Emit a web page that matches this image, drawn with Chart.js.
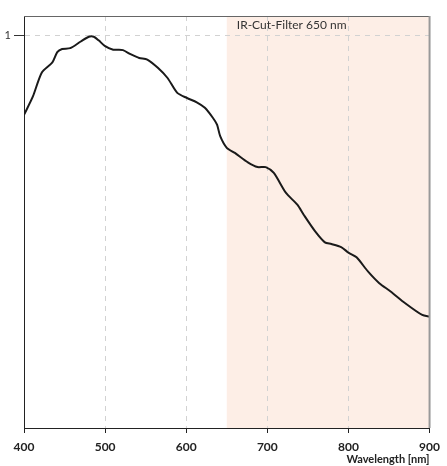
<!DOCTYPE html>
<html>
<head>
<meta charset="utf-8">
<script src="https://cdn.jsdelivr.net/npm/chart.js@4/dist/chart.umd.min.js"></script>
<style>
html,body{margin:0;padding:0;background:#fff;}
#wrap{width:447px;height:466px;position:relative;}
</style>
</head>
<body>
<div id="wrap"><canvas id="c" width="447" height="466"></canvas></div>
<script>
const wavelengths = [400,411,422,435,441,447,457,470,480,486,492,500,510,516,522,532,542,552,565,577,589,601,613,623,633,638,642,650,660,676,688,698,708,723,737,745,759,771,779,791,800,810,824,838,852,870,891,900];
const response    = [0.798,0.845,0.906,0.932,0.958,0.966,0.968,0.985,0.997,0.997,0.988,0.973,0.964,0.964,0.963,0.952,0.943,0.939,0.918,0.892,0.854,0.841,0.830,0.816,0.790,0.773,0.743,0.714,0.701,0.677,0.665,0.665,0.650,0.599,0.569,0.543,0.501,0.473,0.469,0.461,0.447,0.435,0.399,0.369,0.348,0.318,0.288,0.284];
const xTicks = [400,500,600,700,800,900];
const yTicks = [1];
const filterStart = 650;
const filterLabel = 'IR-Cut-Filter 650 nm';
const xTitle = 'Wavelength [nm]';

const points = wavelengths.map((w,i)=>({x:w,y:response[i]}));

const decor = {
  id:'decor',
  beforeDraw(chart){
    const {ctx, chartArea:a, scales:{x}} = chart;
    const x0 = x.getPixelForValue(filterStart);
    ctx.save();
    ctx.fillStyle = '#fdeee6';
    ctx.fillRect(x0, a.top, a.right - x0, a.bottom - a.top);
    ctx.restore();
  },
  afterDatasetsDraw(chart){
    const {ctx, chartArea:a, scales:{x}} = chart;
    ctx.save();
    ctx.setLineDash([]);
    ctx.strokeStyle = '#666';
    ctx.lineWidth = 1;
    ctx.beginPath();
    ctx.moveTo(a.left, a.top + 0.5);
    ctx.lineTo(a.right, a.top + 0.5);
    ctx.stroke();
    ctx.strokeStyle = '#999';
    ctx.lineWidth = 2;
    ctx.beginPath();
    ctx.moveTo(a.right, a.top);
    ctx.lineTo(a.right, a.bottom);
    ctx.stroke();
    const x0 = x.getPixelForValue(filterStart);
    ctx.fillStyle = '#333';
    ctx.font = '12px Lato';
    ctx.textBaseline = 'middle';
    ctx.textAlign = 'left';
    ctx.fillText(filterLabel, x0 + 10, a.top + 9);
    ctx.restore();
  }
};

new Chart(document.getElementById('c'), {
  type:'line',
  data:{datasets:[{data:points, borderColor:'#1a1a1a', borderWidth:2, pointRadius:0, tension:0.25, fill:false}]},
  options:{
    responsive:false, animation:false,
    layout:{padding:{top:16,right:11,left:0,bottom:0}},
    plugins:{legend:{display:false}, tooltip:{enabled:false}},
    scales:{
      x:{type:'linear', min:400, max:900,
        afterBuildTicks(s){ s.ticks = xTicks.map(v=>({value:v})); },
        afterFit(s){ s.height = 38; },
        border:{display:true, color:'#222', width:1, dash:[5,5]},
        grid:{drawOnChartArea:true, drawTicks:true, tickLength:5, tickColor:'#222', tickBorderDash:[],
          color:(c)=> (c.tick && c.tick.value>400 && c.tick.value<900) ? '#d2d2d2' : 'rgba(0,0,0,0)',
          lineWidth:1},
        ticks:{color:'#222', padding:7, maxRotation:0, font:{family:'Lato', size:12, weight:'bold'}},
        title:{display:true, text:xTitle, align:'end', color:'#222', font:{family:'Lato', size:11, weight:'bold'}, padding:{top:0,bottom:0}}
      },
      y:{type:'linear', min:0, max:1.05,
        afterBuildTicks(s){ s.ticks = yTicks.map(v=>({value:v})); },
        afterFit(s){ s.width = 24; },
        border:{display:true, color:'#222', width:1, dash:[5,5]},
        grid:{drawTicks:true, tickLength:10, tickColor:'#333', tickBorderDash:[], color:'#d2d2d2', lineWidth:1},
        ticks:{color:'#333', padding:3, font:{family:'Lato', size:11}}
      }
    }
  },
  plugins:[decor]
});
</script>
</body>
</html>
